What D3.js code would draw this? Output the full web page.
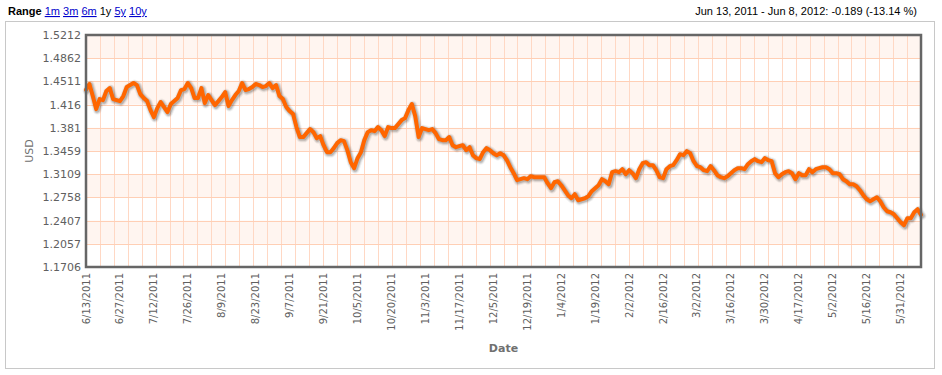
<!DOCTYPE html>
<html>
<head>
<meta charset="utf-8">
<script src="https://cdn.jsdelivr.net/npm/d3@7"></script>
<style>
  body { margin: 0; background: #fff; }
  svg { display: block; }
</style>
</head>
<body>
<svg id="chart" width="942" height="375"></svg>
<script>
// y axis ticks (USD)
const yTicks = [1.1706, 1.2057, 1.2407, 1.2758, 1.3109, 1.3459, 1.381, 1.416, 1.4511, 1.4862, 1.5212]

// one label every 10 trading days
const dateLabels = [
  "6/13/2011", "6/27/2011", "7/12/2011", "7/26/2011", "8/9/2011", "8/23/2011", "9/7/2011",
  "9/21/2011", "10/5/2011", "10/20/2011", "11/3/2011", "11/17/2011", "12/5/2011", "12/19/2011",
  "1/4/2012", "1/19/2012", "2/2/2012", "2/16/2012", "3/2/2012", "3/16/2012", "3/30/2012",
  "4/17/2012", "5/2/2012", "5/16/2012", "5/31/2012"
]
const labelEvery = 10

// daily rate, Jun 13 2011 .. Jun 8 2012
const rates = [
  1.4384, 1.4471, 1.4289, 1.4092, 1.4244, 1.4228, 1.4365, 1.4410, 1.4244, 1.4228,
  1.4213, 1.4289, 1.4425, 1.4455, 1.4486, 1.4455, 1.4319, 1.4259, 1.4213, 1.4077,
  1.3971, 1.4107, 1.4198, 1.4123, 1.4047, 1.4168, 1.4213, 1.4259, 1.4380, 1.4395,
  1.4486, 1.4410, 1.4259, 1.4259, 1.4410, 1.4183, 1.4304, 1.4228, 1.4153, 1.4213,
  1.4274, 1.4349, 1.4138, 1.4228, 1.4304, 1.4365, 1.4486, 1.4380, 1.4395, 1.4425,
  1.4471, 1.4455, 1.4425, 1.4440, 1.4486, 1.4410, 1.4455, 1.4289, 1.4244, 1.4123,
  1.4062, 1.4017, 1.3820, 1.3669, 1.3669, 1.3729, 1.3790, 1.3744, 1.3653, 1.3684,
  1.3547, 1.3441, 1.3441, 1.3502, 1.3578, 1.3623, 1.3608, 1.3472, 1.3290, 1.3199,
  1.3351, 1.3441, 1.3623, 1.3744, 1.3774, 1.3759, 1.3820, 1.3774, 1.3684, 1.3820,
  1.3805, 1.3805, 1.3865, 1.3926, 1.3956, 1.4077, 1.4168, 1.3986, 1.3669, 1.3805,
  1.3790, 1.3774, 1.3790, 1.3729, 1.3638, 1.3623, 1.3623, 1.3669, 1.3547, 1.3517,
  1.3532, 1.3547, 1.3472, 1.3517, 1.3396, 1.3351, 1.3336, 1.3441, 1.3502, 1.3472,
  1.3426, 1.3396, 1.3426, 1.3396, 1.3320, 1.3214, 1.3124, 1.3018, 1.3033, 1.3048,
  1.3033, 1.3078, 1.3063, 1.3063, 1.3063, 1.3063, 1.2972, 1.2897, 1.2987, 1.3003,
  1.2942, 1.2866, 1.2791, 1.2745, 1.2806, 1.2715, 1.2730, 1.2745, 1.2776, 1.2851,
  1.2897, 1.2942, 1.3033, 1.3003, 1.2957, 1.3139, 1.3154, 1.3139, 1.3184, 1.3108,
  1.3169, 1.3124, 1.3048, 1.3184, 1.3275, 1.3290, 1.3245, 1.3245, 1.3169, 1.3063,
  1.3048, 1.3184, 1.3230, 1.3245, 1.3320, 1.3411, 1.3396, 1.3457, 1.3426, 1.3305,
  1.3230, 1.3214, 1.3169, 1.3154, 1.3230, 1.3169, 1.3093, 1.3063, 1.3048, 1.3078,
  1.3124, 1.3169, 1.3199, 1.3199, 1.3184, 1.3260, 1.3305, 1.3336, 1.3305, 1.3290,
  1.3351, 1.3320, 1.3305, 1.3124, 1.3063, 1.3108, 1.3139, 1.3154, 1.3124, 1.3033,
  1.3124, 1.3093, 1.3093, 1.3184, 1.3139, 1.3184, 1.3199, 1.3214, 1.3214, 1.3184,
  1.3124, 1.3124, 1.3108, 1.3033, 1.3003, 1.2957, 1.2957, 1.2927, 1.2866, 1.2791,
  1.2730, 1.2700, 1.2730, 1.2760, 1.2700, 1.2609, 1.2549, 1.2533, 1.2503, 1.2443,
  1.2382, 1.2337, 1.2443, 1.2443, 1.2533, 1.2579, 1.2494
]

const rangeLinks = [
  {label: "1m", active: false},
  {label: "3m", active: false},
  {label: "6m", active: false},
  {label: "1y", active: true},
  {label: "5y", active: false},
  {label: "10y", active: false},
]
const summary = "Jun 13, 2011 - Jun 8, 2012: -0.189 (-13.14 %)"

const plot = {left: 86, right: 921, top: 35, bottom: 267}
const font = "'DejaVu Sans', Verdana, sans-serif"
const sans = "'Liberation Sans', Arial, sans-serif"

const svg = d3.select("#chart")

// outer frame
svg.append("rect")
  .attr("x", 5.5).attr("y", 21.5)
  .attr("width", 929).attr("height", 347)
  .attr("fill", "#fff")
  .attr("stroke", "#c8c8c8")
  .attr("stroke-width", 1)

// header
const head = svg.append("text")
  .attr("x", 8).attr("y", 15)
  .attr("font-family", sans)
  .attr("font-size", 11)
head.append("tspan").attr("font-weight", "bold").attr("fill", "#000").text("Range")
rangeLinks.forEach((r) => {
  head.append("tspan").attr("fill", "#000").text(" ")
  head.append("tspan")
    .attr("fill", r.active ? "#000" : "#0000cc")
    .attr("text-decoration", r.active ? null : "underline")
    .text(r.label)
})

svg.append("text")
  .attr("x", 917).attr("y", 15)
  .attr("text-anchor", "end")
  .attr("font-family", sans)
  .attr("font-size", 11)
  .attr("fill", "#000")
  .text(summary)

const x = d3.scaleLinear().domain([0, rates.length - 1]).range([plot.left, plot.right])
const y = d3.scaleLinear().domain([yTicks[0], yTicks[yTicks.length - 1]]).range([plot.bottom, plot.top])

const g = svg.append("g")

// alternate bands
g.selectAll("rect.band")
  .data(d3.range(yTicks.length - 1).filter((k) => k % 2 === 1))
  .join("rect")
  .attr("class", "band")
  .attr("x", plot.left)
  .attr("width", plot.right - plot.left)
  .attr("y", (k) => y(yTicks[k + 1]))
  .attr("height", (k) => y(yTicks[k]) - y(yTicks[k + 1]))
  .attr("fill", "#fff5f0")

// vertical grid: 60 cells
const gx = d3.scaleLinear().domain([0, 60]).range([plot.left, plot.right])
g.selectAll("line.vgrid")
  .data(d3.range(1, 60))
  .join("line")
  .attr("class", "vgrid")
  .attr("x1", (d) => Math.round(gx(d)) + 0.5)
  .attr("x2", (d) => Math.round(gx(d)) + 0.5)
  .attr("y1", plot.top)
  .attr("y2", plot.bottom)
  .attr("stroke", "#ffd8c4")
  .attr("stroke-width", 1)

// horizontal grid
g.selectAll("line.hgrid")
  .data(yTicks)
  .join("line")
  .attr("class", "hgrid")
  .attr("x1", plot.left)
  .attr("x2", plot.right)
  .attr("y1", (d) => Math.round(y(d)) + 0.5)
  .attr("y2", (d) => Math.round(y(d)) + 0.5)
  .attr("stroke", "#ffcfb5")
  .attr("stroke-width", 1)

// y labels
g.selectAll("text.ylab")
  .data(yTicks)
  .join("text")
  .attr("class", "ylab")
  .attr("x", 81)
  .attr("y", (d) => y(d) + 4)
  .attr("text-anchor", "end")
  .attr("font-family", font)
  .attr("font-size", 11)
  .attr("fill", "#606060")
  .text((d) => String(d))

svg.append("text")
  .attr("transform", `translate(33,${(plot.top + plot.bottom) / 2}) rotate(-90)`)
  .attr("text-anchor", "middle")
  .attr("font-family", font)
  .attr("font-size", 11)
  .attr("fill", "#707070")
  .text("USD")

// x labels
g.selectAll("text.xlab")
  .data(dateLabels)
  .join("text")
  .attr("class", "xlab")
  .attr("transform", (d, i) => `translate(${x(i * labelEvery) + 3.5},${plot.bottom + 6}) rotate(-90)`)
  .attr("text-anchor", "end")
  .attr("font-family", font)
  .attr("font-size", 10)
  .attr("fill", "#606060")
  .text((d) => d)

svg.append("text")
  .attr("x", (plot.left + plot.right) / 2)
  .attr("y", 352)
  .attr("text-anchor", "middle")
  .attr("font-family", font)
  .attr("font-size", 11)
  .attr("font-weight", "bold")
  .attr("fill", "#707070")
  .text("Date")

// series line with soft shadow
const line = d3.line()
  .x((d, i) => x(i))
  .y((d) => y(d))

const shadow = g.append("g").attr("transform", "translate(1,1)")
;[[9, 0.05], [7, 0.1], [5, 0.15]].forEach(([w, o]) => {
  shadow.append("path")
    .datum(rates)
    .attr("d", line)
    .attr("fill", "none")
    .attr("stroke", "#000")
    .attr("stroke-opacity", o)
    .attr("stroke-width", w)
    .attr("stroke-linejoin", "round")
    .attr("stroke-linecap", "round")
})

g.append("path")
  .datum(rates)
  .attr("d", line)
  .attr("fill", "none")
  .attr("stroke", "#ff6600")
  .attr("stroke-width", 4)
  .attr("stroke-linejoin", "round")
  .attr("stroke-linecap", "round")

// plot border
svg.append("rect")
  .attr("x", plot.left)
  .attr("y", plot.top)
  .attr("width", plot.right - plot.left)
  .attr("height", plot.bottom - plot.top)
  .attr("fill", "none")
  .attr("stroke", "#666")
  .attr("stroke-width", 2.5)
</script>
</body>
</html>
